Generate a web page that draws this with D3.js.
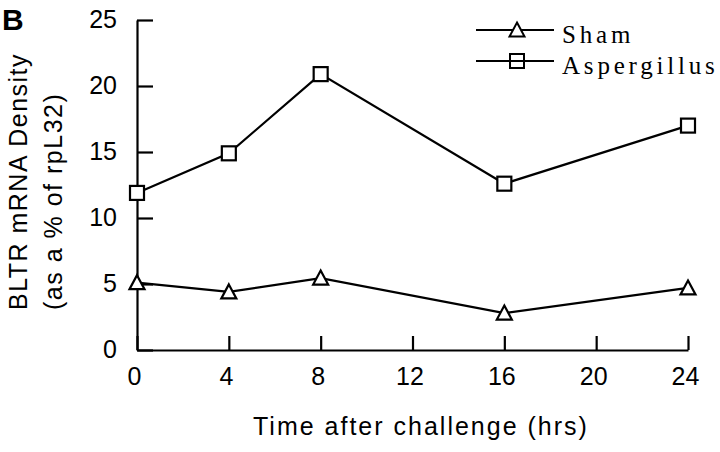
<!DOCTYPE html>
<html><head><meta charset="utf-8">
<script src="https://cdn.jsdelivr.net/npm/d3@7"></script>
<style>body{margin:0;background:#fff}</style>
</head><body>
<svg id="c" width="720" height="452"></svg>
<script>
const hours = [0, 4, 8, 16, 24];
const shamValues = [5.1, 4.4, 5.45, 2.8, 4.7];
const aspergillusValues = [11.9, 14.9, 20.9, 12.6, 17.0];
const xTicks = [0, 4, 8, 12, 16, 20, 24];
const yTicks = [0, 5, 10, 15, 20, 25];
const seriesNames = ["Sham", "Aspergillus"];

const svg = d3.select("#c");
const x = d3.scaleLinear().domain([0, 24]).range([137, 688]);
const y = d3.scaleLinear().domain([0, 25]).range([350, 20]);
const font = "Arial, 'Liberation Sans', Helvetica, sans-serif";

// axes
const xAxis = d3.axisBottom(x).tickValues(xTicks).tickSizeInner(-14).tickSizeOuter(0).tickPadding(24);
const gx = svg.append("g").attr("transform", "translate(0,350)").call(xAxis);
const yAxis = d3.axisLeft(y).tickValues(yTicks).tickSizeInner(-16).tickSizeOuter(0).tickPadding(20);
const gy = svg.append("g").attr("transform", "translate(137,0)").call(yAxis);
[gx, gy].forEach(g => {
  g.selectAll("path,line").attr("stroke", "#000").attr("stroke-width", 2.2);
  g.selectAll("text").attr("font-family", font).attr("font-size", 25).attr("fill", "#000");
});
gx.selectAll("text").attr("dy", null).attr("y", 35).attr("x", -3);
gy.selectAll("text").attr("x", -20).attr("dy", "0.3em");

// lines
const line = d3.line().x((d, i) => x(hours[i])).y(d => y(d));
const triPath = "M0,-7.5L7.5,6.5L-7.5,6.5Z";
function drawSeries(vals, shape) {
  svg.append("path").datum(vals).attr("d", line).attr("fill", "none")
    .attr("stroke", "#000").attr("stroke-width", 2.2);
  const g = svg.append("g");
  vals.forEach((v, i) => {
    if (shape === "tri") {
      g.append("path").attr("d", triPath).attr("transform", `translate(${x(hours[i])},${y(v)})`)
        .attr("fill", "#fff").attr("stroke", "#000").attr("stroke-width", 2.2);
    } else {
      g.append("rect").attr("x", x(hours[i]) - 7).attr("y", y(v) - 7).attr("width", 14).attr("height", 14)
        .attr("fill", "#fff").attr("stroke", "#000").attr("stroke-width", 2.2);
    }
  });
}
drawSeries(shamValues, "tri");
drawSeries(aspergillusValues, "sq");

// legend
const legY = [30, 61];
seriesNames.forEach((name, i) => {
  svg.append("line").attr("x1", 476).attr("x2", 554).attr("y1", legY[i]).attr("y2", legY[i])
    .attr("stroke", "#000").attr("stroke-width", 2);
  if (i === 0) {
    svg.append("path").attr("d", triPath).attr("transform", `translate(517,${legY[i]})`)
      .attr("fill", "#fff").attr("stroke", "#000").attr("stroke-width", 2);
  } else {
    svg.append("rect").attr("x", 510).attr("y", legY[i] - 7).attr("width", 14).attr("height", 14)
      .attr("fill", "none").attr("stroke", "#000").attr("stroke-width", 2);
  }
  svg.append("text").attr("x", 562).attr("y", legY[i] + 13).text(name)
    .attr("font-family", "'Liberation Serif', 'Times New Roman', serif").attr("font-size", 25)
    .attr("letter-spacing", 3.8).attr("fill", "#000");
});

// labels
svg.append("text").attr("x", 2).attr("y", 30).text("B").attr("font-family", font)
  .attr("font-weight", "bold").attr("font-size", 30).attr("fill", "#000");
svg.append("text").attr("transform", "translate(27,310) rotate(-90)").attr("text-anchor", "start")
  .text("BLTR mRNA Density").attr("font-family", font).attr("font-size", 25)
  .attr("letter-spacing", 1.5).attr("fill", "#000");
svg.append("text").attr("transform", "translate(62,310) rotate(-90)").attr("text-anchor", "start")
  .text("(as a % of rpL32)").attr("font-family", font).attr("font-size", 25)
  .attr("letter-spacing", 1.5).attr("fill", "#000");
svg.append("text").attr("x", 253).attr("y", 435).attr("text-anchor", "start")
  .text("Time after challenge (hrs)").attr("font-family", font).attr("font-size", 25)
  .attr("letter-spacing", 2).attr("fill", "#000");
</script>
</body></html>
